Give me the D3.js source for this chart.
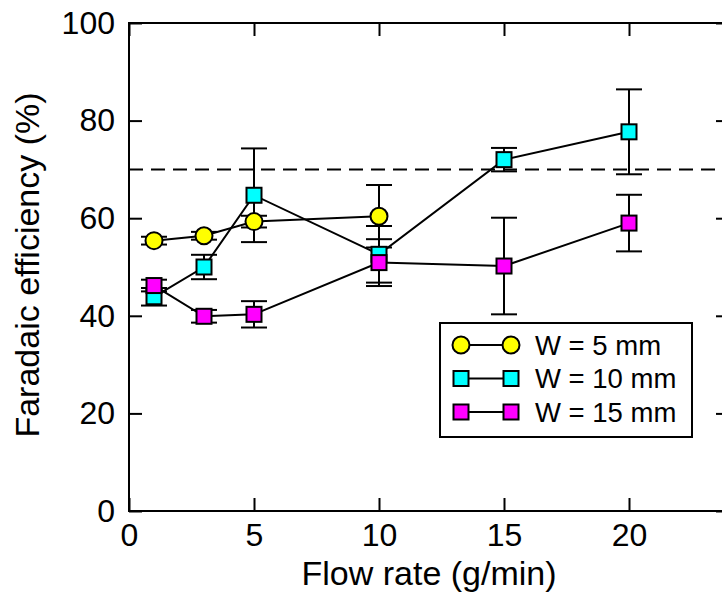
<!DOCTYPE html>
<html>
<head>
<meta charset="utf-8">
<script src="https://cdn.jsdelivr.net/npm/d3@7"></script>
<style>
  body { margin: 0; background: #fff; }
  text { font-family: "Liberation Sans", Arial, Helvetica, sans-serif; fill: #000; }
</style>
</head>
<body>
<div id="chart"></div>
<script>
// data
const flowW5 = [1, 3, 5, 10];
const feW5 = [55.4, 56.4, 59.3, 60.4];
const errW5 = [0.8, 0.8, 1.2, 6.4];

const flowW10 = [1, 3, 5, 10, 15, 20];
const feW10 = [43.9, 50.0, 64.7, 52.6, 72.0, 77.7];
const errW10 = [1.8, 2.5, 9.6, 5.8, 2.4, 8.7];

const flowW15 = [1, 3, 5, 10, 15, 20];
const feW15 = [46.2, 39.9, 40.3, 50.9, 50.2, 59.0];
const errW15 = [1.2, 1.3, 2.7, 4.8, 9.9, 5.8];

const xTicks = [0, 5, 10, 15, 20];
const yTicks = [0, 20, 40, 60, 80, 100];
const refLine = 70;

const series = [
    { name: "W = 5 mm", shape: "circle", color: "#ffff00", x: flowW5, y: feW5, e: errW5 },
    { name: "W = 10 mm", shape: "square", color: "#00ffff", x: flowW10, y: feW10, e: errW10 },
    { name: "W = 15 mm", shape: "square", color: "#ff00ff", x: flowW15, y: feW15, e: errW15 }
];

function drawChart() {
    const width = 722, height = 593;
    const margin = { top: 23, right: -7, bottom: 82, left: 129 };

    const svg = d3.select("#chart").append("svg")
        .attr("width", width)
        .attr("height", height);

    const x = d3.scaleLinear().domain([0, 24]).range([margin.left, width - margin.right]);
    const y = d3.scaleLinear().domain([0, 100]).range([height - margin.bottom, margin.top]);

    // axes, ticks pointing inward
    const axisStyle = g => {
        g.select(".domain").remove();
        g.selectAll(".tick line").attr("stroke", "#000").attr("stroke-width", 2);
        g.selectAll("text").style("font-size", "32px").attr("fill", "#000");
    };

    svg.append("g")
        .attr("transform", `translate(${x(0)},0)`)
        .call(d3.axisLeft(y).tickValues(yTicks).tickSizeInner(-13).tickSizeOuter(0).tickPadding(14))
        .call(axisStyle);

    svg.append("g")
        .attr("transform", `translate(${x(24)},0)`)
        .call(d3.axisRight(y).tickValues(yTicks).tickSizeInner(-13).tickSizeOuter(0).tickFormat(""))
        .call(axisStyle);

    svg.append("g")
        .attr("transform", `translate(0,${y(0)})`)
        .call(d3.axisBottom(x).tickValues(xTicks).tickSizeInner(-13).tickSizeOuter(0).tickPadding(12))
        .call(axisStyle);

    svg.append("g")
        .attr("transform", `translate(0,${y(100)})`)
        .call(d3.axisTop(x).tickValues(xTicks).tickSizeInner(-13).tickSizeOuter(0).tickFormat(""))
        .call(axisStyle);

    // frame
    svg.append("rect")
        .attr("x", x(0)).attr("y", y(100))
        .attr("width", x(24) - x(0)).attr("height", y(0) - y(100))
        .attr("fill", "none").attr("stroke", "#000").attr("stroke-width", 2);

    // axis titles
    svg.append("text")
        .attr("x", 429)
        .attr("y", 585)
        .attr("text-anchor", "middle")
        .style("font-size", "34px")
        .text("Flow rate (g/min)");

    svg.append("text")
        .attr("transform", `translate(39,${(y(0) + y(100)) / 2 - 2}) rotate(-90)`)
        .attr("text-anchor", "middle")
        .style("font-size", "34px")
        .text("Faradaic efficiency (%)");

    // dashed reference line
    svg.append("line")
        .attr("x1", x(0)).attr("x2", width)
        .attr("y1", y(refLine)).attr("y2", y(refLine))
        .attr("stroke", "#000").attr("stroke-width", 2)
        .attr("stroke-dasharray", "14,8");

    const rows = s => s.x.map((v, i) => ({ x: v, y: s.y[i], e: s.e[i] }));

    // error bars
    series.forEach(s => {
        const g = svg.append("g").attr("stroke", "#000").attr("stroke-width", 2);
        rows(s).forEach(d => {
            g.append("line").attr("x1", x(d.x)).attr("x2", x(d.x))
                .attr("y1", y(d.y - d.e)).attr("y2", y(d.y + d.e));
            [d.y - d.e, d.y + d.e].forEach(v => {
                g.append("line").attr("x1", x(d.x) - 13).attr("x2", x(d.x) + 13)
                    .attr("y1", y(v)).attr("y2", y(v));
            });
        });
    });

    // connecting lines
    const line = d3.line().x(d => x(d.x)).y(d => y(d.y));
    series.forEach(s => {
        svg.append("path")
            .datum(rows(s))
            .attr("d", line)
            .attr("fill", "none")
            .attr("stroke", "#000")
            .attr("stroke-width", 2);
    });

    function marker(g, shape, color, cx, cy) {
        if (shape === "circle") {
            g.append("circle").attr("cx", cx).attr("cy", cy).attr("r", 8.5)
                .attr("fill", color).attr("stroke", "#000").attr("stroke-width", 2);
        } else {
            g.append("rect").attr("x", cx - 7.5).attr("y", cy - 7.5)
                .attr("width", 15).attr("height", 15)
                .attr("fill", color).attr("stroke", "#000").attr("stroke-width", 2);
        }
    }

    // markers
    series.forEach(s => {
        const g = svg.append("g");
        rows(s).forEach(d => marker(g, s.shape, s.color, x(d.x), y(d.y)));
    });

    // legend
    const legend = svg.append("g");
    legend.append("rect")
        .attr("x", 440).attr("y", 323).attr("width", 252).attr("height", 114)
        .attr("fill", "#fff").attr("stroke", "#000").attr("stroke-width", 2);
    series.forEach((s, i) => {
        const ly = 345 + i * 33.5;
        legend.append("line").attr("x1", 461).attr("x2", 511).attr("y1", ly).attr("y2", ly)
            .attr("stroke", "#000").attr("stroke-width", 2);
        marker(legend, s.shape, s.color, 461, ly);
        marker(legend, s.shape, s.color, 511, ly);
        legend.append("text")
            .attr("x", 535).attr("y", ly + 9.5)
            .style("font-size", "27.5px")
            .text(s.name);
    });
}

drawChart();
</script>
</body>
</html>
